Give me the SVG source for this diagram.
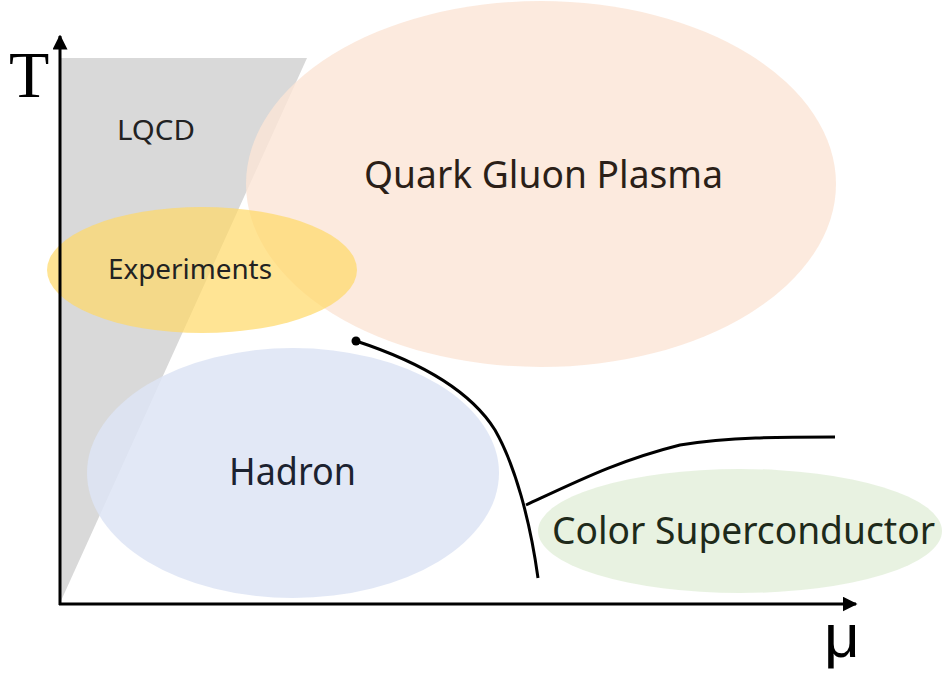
<svg xmlns="http://www.w3.org/2000/svg" width="944" height="677" viewBox="0 0 944 677">
<defs>
<style>
.lbl{font-family:"Noto Sans","Liberation Sans",sans-serif;fill:#222}
.curve{fill:none;stroke:#000;stroke-width:3}
.axis{stroke:#000;stroke-width:3;fill:none}
</style>
<marker id="ah" viewBox="0 0 10 10" refX="9" refY="5" markerWidth="5" markerHeight="5" orient="auto" markerUnits="strokeWidth"><path d="M0,0 L10,5 L0,10 Z" fill="#000"/></marker>
</defs>
<rect width="944" height="677" fill="#fff"/>
<g id="lqcd">
<polygon points="60,603 60,58 307,58" fill="#d9d9d9"/>
<text class="lbl" x="117" y="140" font-size="27" textLength="78" lengthAdjust="spacingAndGlyphs">LQCD</text>
</g>
<g id="qgp">
<ellipse cx="541" cy="184" rx="295" ry="183" fill="#fbe5d6" fill-opacity="0.8"/>
<text class="lbl" x="364" y="188" font-size="39" textLength="359" lengthAdjust="spacingAndGlyphs" style="fill:#2b1f18">Quark Gluon Plasma</text>
</g>
<g id="hadron">
<ellipse cx="293" cy="473" rx="206" ry="125" fill="#dde4f5" fill-opacity="0.85"/>
<text class="lbl" x="229" y="485" font-size="39" textLength="127" lengthAdjust="spacingAndGlyphs" style="fill:#1c2230">Hadron</text>
</g>
<g id="csc">
<ellipse cx="740" cy="531" rx="202" ry="62" fill="#e2efda" fill-opacity="0.8"/>
<text class="lbl" x="552" y="544" font-size="39" textLength="383" lengthAdjust="spacingAndGlyphs" style="fill:#1e2a1a">Color Superconductor</text>
</g>
<g id="experiments">
<ellipse cx="202" cy="270" rx="155" ry="63" fill="#ffd966" fill-opacity="0.7"/>
<text class="lbl" x="108" y="279" font-size="27" textLength="164" lengthAdjust="spacingAndGlyphs">Experiments</text>
</g>
<g id="connectors">
<path class="curve" d="M356,341 C420,362 470,390 495,430 C515,465 530,520 538,578"/>
<circle cx="356" cy="341" r="4.5" fill="#000"/>
<path class="curve" d="M526,505 C580,480 620,460 680,445 C730,437 780,437 835,437"/>
<line class="axis" x1="60" y1="605" x2="60" y2="36" marker-end="url(#ah)"/>
<line class="axis" x1="59" y1="604" x2="856" y2="604" marker-end="url(#ah)"/>
</g>
<g id="axis-labels">
<text x="9" y="97" font-family="'Liberation Serif',serif" font-size="66" fill="#000">T</text>
<text x="824" y="657" font-family="'Liberation Sans',sans-serif" font-size="62" fill="#000">μ</text>
</g>
</svg>
